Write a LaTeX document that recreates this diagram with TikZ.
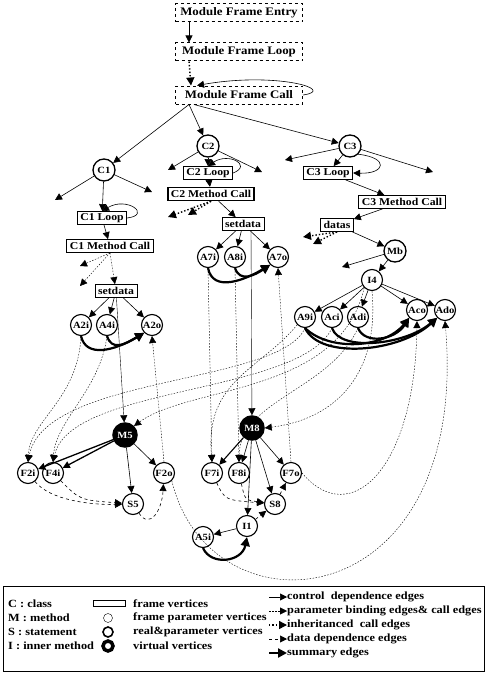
\documentclass[tikz,border=0pt]{standalone}
\usepackage{fontspec}
\setmainfont{Liberation Serif}[FakeStretch=1.12]
\usepackage{tikz}
\usetikzlibrary{arrows.meta,positioning,calc}
\tikzset{
  frame/.style={rectangle, draw=black, thick, font=\bfseries\fontsize{10.5}{12}\selectfont,
    inner xsep=3pt, inner ysep=1.5pt, minimum height=13pt},
  mframe/.style={frame, dashed, line width=1pt, minimum width=127pt, minimum height=18pt,
    font=\bfseries\fontsize{11.5}{13}\selectfont},
  vtx/.style={circle, draw=black, line width=1.1pt, font=\bfseries\fontsize{9.5}{10}\selectfont,
    inner sep=0pt, minimum size=21pt},
  cls/.style={vtx, line width=1.3pt, minimum size=22pt},
  virt/.style={vtx, fill=black, text=white, line width=2.5pt, minimum size=23pt},
  ctrl/.style={-{Triangle[length=7pt,width=7pt]}, semithick},
  pbind/.style={-{Triangle[length=7pt,width=7pt]}, dash pattern=on 1.5pt off 1.5pt, thin},
  inh/.style={-{Triangle[length=8pt,width=8pt]}, dotted, line width=1.4pt},
  dat/.style={-{Triangle[length=7pt,width=7pt]}, dashed, semithick},
  summ/.style={-{Triangle[length=9pt,width=9pt]}, line width=2.2pt},
  legtxt/.style={anchor=west, font=\bfseries\fontsize{11}{12}\selectfont, inner sep=0pt},
}

\begin{document}
\begin{tikzpicture}[x=1pt,y=-1pt]
\useasboundingbox (0,0) rectangle (487,677);
% module frames
\node[mframe] (mfentry) at (239,13) {Module Frame Entry};
\node[mframe] (mfloop) at (239,52) {Module Frame Loop};
\node[mframe] (mfcall) at (239,95) {Module Frame Call};
\draw[ctrl] ([xshift=-50pt]mfentry.south) -- ([xshift=-50pt]mfloop.north);
\draw[inh] ([xshift=-50pt]mfloop.south) -- ([xshift=-48pt]mfcall.north);
\draw[ctrl] (mfcall.east) .. controls +(35,-5) and +(80,-14) .. ([xshift=-42pt]mfcall.north);

% class C1
\node[cls] (c1) at (104,170) {C1};
\node[frame] (c1loop) at (102,218) {C1 Loop};
\node[frame] (c1call) at (110,246) {C1 Method Call};
\node[frame] (set1) at (116,291) {setdata};
\node[vtx] (a2i) at (81,325) {A2i};
\node[vtx] (a4i) at (107,325) {A4i};
\node[vtx] (a2o) at (152,325) {A2o};
\node[virt] (m5) at (125,435) {M5};
\node[vtx] (f2i) at (28,473) {F2i};
\node[vtx] (f4i) at (53,473) {F4i};
\node[vtx] (f2o) at (164,473) {F2o};
\node[vtx] (s5) at (133,504) {S5};

% class C2
\node[cls] (c2) at (208,146) {C2};
\node[frame] (c2loop) at (208,173) {C2 Loop};
\node[frame, line width=1.4pt] (c2call) at (211,194) {C2 Method Call};
\node[frame] (set2) at (243,224) {setdata};
\node[vtx] (a7i) at (208,257) {A7i};
\node[vtx] (a8i) at (235,257) {A8i};
\node[vtx] (a7o) at (278,257) {A7o};
\node[virt] (m8) at (252,428) {M8};
\node[vtx] (f7i) at (212,473) {F7i};
\node[vtx] (f8i) at (239,473) {F8i};
\node[vtx] (f7o) at (291,473) {F7o};
\node[vtx] (s8) at (275,504) {S8};
\node[vtx] (i1) at (247,526) {I1};
\node[vtx] (a5i) at (203,537) {A5i};

% class C3
\node[cls] (c3) at (350,146) {C3};
\node[frame] (c3loop) at (328,173) {C3 Loop};
\node[frame] (c3call) at (402,202) {C3 Method Call};
\node[frame] (datas) at (337,225) {datas};
\node[cls] (mb) at (395,251) {Mb};
\node[vtx] (i4) at (372,280) {I4};
\node[vtx] (a9i) at (305,317) {A9i};
\node[vtx] (aci) at (332,317) {Aci};
\node[vtx] (adi) at (358,317) {Adi};
\node[vtx] (aco) at (417,310) {Aco};
\node[vtx] (ado) at (445,310) {Ado};

% loose ends
\coordinate (c1l) at (55,200);
\coordinate (c1r) at (152,192);
\coordinate (c1a) at (80,266);
\coordinate (c1b) at (80,286);
\coordinate (c2l) at (168,170);
\coordinate (c2r) at (262,172);
\coordinate (c2a) at (168,217);
\coordinate (c2b) at (188,215);
\coordinate (c3l) at (285,160);
\coordinate (c3r) at (433,172);
\coordinate (dl1) at (303,237);
\coordinate (dl2) at (313,244);
\coordinate (mbl) at (342,267);

\draw[ctrl] ([xshift=-50pt]mfcall.south) -- (c1);
\draw[ctrl] ([xshift=-50pt]mfcall.south) -- (c2);
\draw[ctrl] ([xshift=-45pt]mfcall.south) -- (c3);

% C1 edges
\draw[ctrl] (c1) -- (c1l);
\draw[ctrl] (c1) -- (c1r);
\draw[ctrl] (c1) -- (c1loop);
\draw[ctrl] (c1loop.east) .. controls +(25,-3) and +(25,-15) .. (c1loop.north);
\draw[ctrl] (c1loop) -- (c1call);
\draw[pbind] (c1call.south) -- (c1a);
\draw[pbind] (c1call.south) -- (c1b);
\draw[pbind] (c1call.south) -- (set1);
\draw[ctrl] (set1) -- (a2i);
\draw[ctrl] (set1) -- (a4i);
\draw[ctrl] (set1) -- (a2o);
\draw[ctrl, thin] (set1) -- (m5);
\draw[summ] (a2i.south) .. controls +(5,22) and +(-30,18) .. (a2o.south west);
\draw[summ] (a4i.south) .. controls +(5,15) and +(-20,12) .. (a2o.south west);
\draw[ctrl, line width=1.3pt] (m5) -- (f2i);
\draw[ctrl, line width=1.3pt] (m5) -- (f4i);
\draw[ctrl] (m5) -- (s5);
\draw[ctrl] (m5) -- (f2o);
\draw[dat] (f2i) .. controls (50,500) and (90,505) .. (s5);
\draw[dat] (f4i) .. controls (80,500) .. (s5);
\draw[dat] (s5) .. controls (150,530) and (162,510) .. (f2o);

% C2 edges
\draw[ctrl] (c2) -- (c2l);
\draw[ctrl] (c2) -- (c2r);
\draw[ctrl] (c2) -- (c2loop);
\draw[ctrl] (c2loop.east) .. controls +(20,-8) and +(20,-14) .. (c2loop.north);
\draw[ctrl] (c2loop) -- (c2call);
\draw[inh] (c2call.south) -- (c2a);
\draw[inh] (c2call.south) -- (c2b);
\draw[ctrl] (c2call) -- (set2);
\draw[ctrl] (set2) -- (a7i);
\draw[ctrl] (set2) -- (a8i);
\draw[ctrl] (set2) -- (a7o);
\draw[ctrl, thin] ([xshift=8pt]set2.south) -- (m8);
\draw[summ] (a7i.south) .. controls +(5,25) and +(-25,15) .. (a7o.south west);
\draw[summ] (a8i.south) .. controls +(5,15) and +(-15,10) .. (a7o.south west);
\draw[ctrl, line width=1.1pt] (m8) -- (f7i);
\draw[ctrl] (m8) -- (f8i);
\draw[ctrl] (m8) -- (f7o);
\draw[ctrl] (m8) -- (s8);
\draw[ctrl] (m8) -- (i1);
\draw[dat] (f7i) .. controls (225,500) .. (s8);
\draw[dat] (f8i) .. controls (245,500) .. (s8);
\draw[dat] (s8) -- (f7o);
\draw[dat] (i1) -- (s8);
\draw[ctrl] (i1) -- (a5i);
\draw[summ] (a5i.south) .. controls +(8,18) and +(-5,25) .. (i1.south);

% C3 edges
\draw[ctrl] (c3) -- (c3l);
\draw[ctrl] (c3) -- (c3r);
\draw[ctrl] (c3) -- (c3loop);
\draw[ctrl] (c3.south east) .. controls (390,158) and (385,174) .. (c3loop.east);
\draw[ctrl] (c3loop) -- (c3call);
\draw[ctrl] (c3call) -- (datas);
\draw[inh] (datas.south) -- (dl1);
\draw[inh] (datas.south) -- (dl2);
\draw[ctrl] (datas) -- (mb);
\draw[ctrl] (mb) -- (mbl);
\draw[ctrl] (mb) -- (i4);
\foreach \t in {a9i,aci,adi,aco,ado}
  \draw[ctrl] (i4) -- (\t);
\draw[summ] (a9i.south) .. controls (320,360) and (400,352) .. (ado.south west);
\draw[summ] (aci.south) .. controls (340,352) and (405,345) .. (ado.south west);
\draw[summ] (a9i.south) .. controls (330,352) and (385,348) .. (aco.south west);
\draw[summ] (adi.south) .. controls (365,345) and (395,340) .. (aco.south west);

% parameter binding and call edges
\draw[pbind] (a2i.south) .. controls (78,400) and (30,420) .. (f2i.north);
\draw[pbind] (a4i.south) .. controls (100,390) and (56,420) .. (f4i.north);
\draw[pbind] (f2o.north) -- (a2o.south);
\draw[pbind] (a7i.south) -- (f7i.north);
\draw[pbind] (a8i.south) -- (f8i.north);
\draw[pbind] (f7o.north) -- (a7o.south);
\draw[pbind] (a9i.south) .. controls (280,385) and (45,375) .. (f2i.north);
\draw[pbind] (aci.south) .. controls (300,395) and (70,385) .. (f4i.north);
\draw[pbind] (a9i.south west) .. controls (260,370) and (205,380) .. (f7i.north);
\draw[pbind] (adi.south) .. controls (330,390) and (240,400) .. (f8i.north);
\draw[pbind] (i4.south west) .. controls (340,395) and (190,385) .. (m5.north east);
\draw[pbind] (i4.south) .. controls (380,380) and (330,420) .. (m8.east);
\draw[pbind] (f7o.east) .. controls (350,530) and (415,470) .. (aco.south);
\draw[pbind] (f2o.south east) .. controls (210,640) and (470,620) .. (ado.south);

% legend
\draw[thick] (3,586) rectangle (484,671);
\node[legtxt] (lcls) at (8,604) {C : class};
\node[legtxt] (lmth) at (8,618) {M : method};
\node[legtxt] (lstm) at (8,632) {S : statement};
\node[legtxt] (linn) at (8,646) {I : inner method};
\node[rectangle, draw, thick, minimum width=32pt, minimum height=6pt, inner sep=0pt] (lfr) at (109,603) {};
\node[circle, draw, thin, minimum size=9pt, inner sep=0pt] (lfp) at (108,618) {};
\node[circle, draw, line width=1.6pt, minimum size=10pt, inner sep=0pt] (lrp) at (108,632) {};
\node[circle, draw, fill=white, line width=3.5pt, minimum size=10pt, inner sep=0pt] (lvv) at (108,646) {};
\node[legtxt] (tfr) at (133,604) {frame vertices};
\node[legtxt] (tfp) at (133,618) {frame parameter vertices};
\node[legtxt] (trp) at (133,632) {real\&parameter vertices};
\node[legtxt] (tvv) at (133,646) {virtual vertices};
\node[legtxt] (tk1) at (287,597) {control~ dependence edges};
\node[legtxt] (tk2) at (287,611) {parameter binding edges\& call edges};
\node[legtxt] (tk3) at (287,625) {inheritanced~ call edges};
\node[legtxt] (tk4) at (287,639) {data dependence edges};
\node[legtxt] (tk5) at (287,653) {summary edges};
\draw[ctrl] ([xshift=-18pt]tk1.west) -- (tk1.west);
\draw[pbind] ([xshift=-18pt]tk2.west) -- (tk2.west);
\draw[inh] ([xshift=-18pt]tk3.west) -- (tk3.west);
\draw[dat] ([xshift=-18pt]tk4.west) -- (tk4.west);
\draw[summ] ([xshift=-18pt]tk5.west) -- (tk5.west);
\end{tikzpicture}
\end{document}
